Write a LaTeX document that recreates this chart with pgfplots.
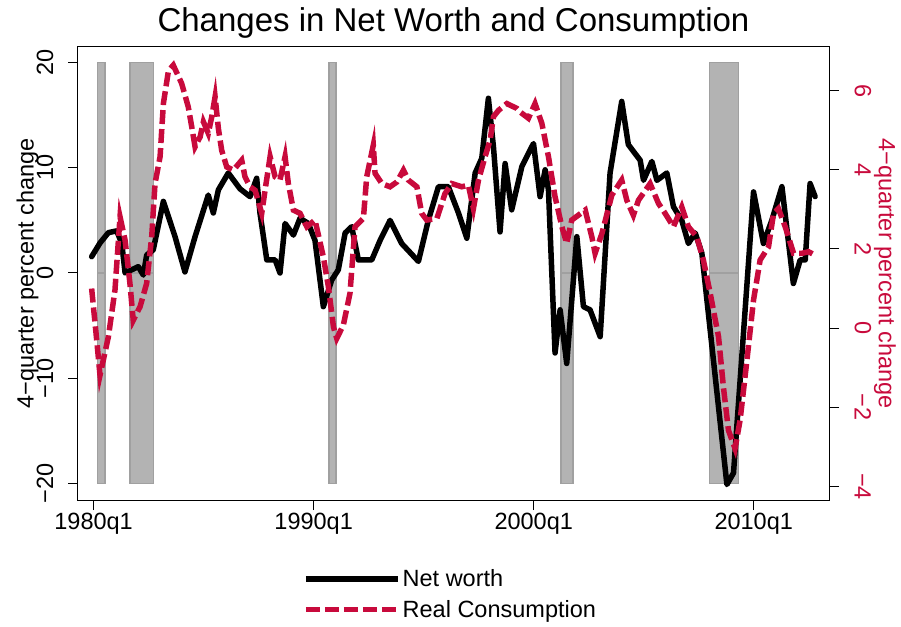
\documentclass[border=0pt]{standalone}
\usepackage{pgfplots}
\pgfplotsset{compat=1.18}
\usepackage{fontspec}
\setmainfont{Liberation Sans}
\definecolor{cran}{RGB}{200,10,60}
\definecolor{barfill}{RGB}{179,179,179}
\definecolor{bardraw}{RGB}{160,160,160}
\begin{document}
\begin{tikzpicture}
\useasboundingbox (0pt,0pt) rectangle (901pt,626pt);
\pgfplotsset{
 base/.style={
  scale only axis, width=751pt, height=453pt,
  at={(78pt,126pt)}, anchor=south west,
  xmin=1979.29, xmax=2013.42,
  tick align=outside, major tick length=10pt,
  tick style={line width=1pt, black},
  ticklabel style={font=\fontsize{23.5}{28}\selectfont},
  label style={font=\fontsize{23.5}{28}\selectfont},
  axis line style={line width=1pt, black},
 },
 rec/.style={fill=barfill, draw=bardraw, line width=1.5pt, forget plot},
}
\begin{axis}[base,
  ymin=-21.57, ymax=21.47,
  xtick={1980,1990,2000,2010}, xticklabels={1980q1,1990q1,2000q1,2010q1},
  ytick={-20,-10,0,10,20}, yticklabels={−20,−10,0,10,20},
  xtick pos=bottom, ytick pos=left,
  yticklabel style={rotate=90, anchor=south},
  yticklabel shift=11pt,
  every axis y label/.style={at={(axis description cs:-0.0673,0.5)}, rotate=90, anchor=center, font=\fontsize{23.5}{28}\selectfont},
  ylabel={4−quarter percent change},
  title={Changes in Net Worth and Consumption},
  title style={font=\fontsize{33}{38}\selectfont, at={(axis description cs:0.5,1.022)}, anchor=base},
]
\addplot[rec] coordinates {(1980.17,20) (1980.52,20)} \closedcycle;
\addplot[rec] coordinates {(1980.17,-20) (1980.52,-20)} \closedcycle;
\addplot[rec] coordinates {(1981.65,20) (1982.71,20)} \closedcycle;
\addplot[rec] coordinates {(1981.65,-20) (1982.71,-20)} \closedcycle;
\addplot[rec] coordinates {(1990.70,20) (1991.02,20)} \closedcycle;
\addplot[rec] coordinates {(1990.70,-20) (1991.02,-20)} \closedcycle;
\addplot[rec] coordinates {(2001.25,20) (2001.78,20)} \closedcycle;
\addplot[rec] coordinates {(2001.25,-20) (2001.78,-20)} \closedcycle;
\addplot[rec] coordinates {(2007.98,20) (2009.30,20)} \closedcycle;
\addplot[rec] coordinates {(2007.98,-20) (2009.30,-20)} \closedcycle;
\addplot[black, line width=5.5pt, line join=round, line cap=round] coordinates {
(1979.91,1.55) (1980.29,2.85) (1980.67,3.83) (1981.05,4.0) (1981.28,2.8) (1981.43,0.0) (1981.73,0.3) (1982.03,0.6) (1982.26,-0.2) (1982.41,1.7) (1982.71,2.2) (1983.17,6.8) (1983.70,3.45) (1984.15,0.1) (1984.61,3.45) (1985.21,7.4) (1985.44,5.7) (1985.67,7.9) (1986.12,9.5) (1986.65,8.0) (1987.11,7.25) (1987.41,9.0) (1987.56,5.7) (1987.87,1.24) (1988.25,1.24) (1988.47,0.0) (1988.70,4.7) (1989.08,3.6) (1989.38,5.2) (1989.76,4.7) (1990.06,3.1) (1990.44,-3.2) (1990.82,-0.67) (1991.12,0.3) (1991.43,3.8) (1991.73,4.4) (1992.03,1.24) (1992.64,1.24) (1993.02,3.1) (1993.47,5.0) (1994.00,2.8) (1994.76,1.1) (1995.21,5.0) (1995.67,8.2) (1996.12,8.2) (1996.58,5.7) (1996.96,3.3) (1997.34,9.5) (1997.64,10.9) (1997.94,16.6) (1998.17,12.0) (1998.47,3.9) (1998.70,10.4) (1999.00,6.0) (1999.46,10.1) (1999.84,11.7) (1999.99,12.3) (2000.29,7.25) (2000.52,9.8) (2000.67,7.9) (2000.97,-7.6) (2001.20,-3.5) (2001.50,-8.6) (2001.96,3.45) (2002.26,-3.2) (2002.56,-3.5) (2003.02,-6.05) (2003.47,9.5) (2004.00,16.3) (2004.30,12.2) (2004.84,10.7) (2004.99,8.8) (2005.37,10.6) (2005.60,8.8) (2006.05,9.5) (2006.35,6.3) (2006.73,5.0) (2007.03,2.8) (2007.34,3.8) (2007.64,1.9) (2008.78,-20.1) (2009.08,-19.0) (2009.99,7.7) (2010.44,2.8) (2010.82,5.0) (2011.28,8.2) (2011.80,-1.0) (2012.11,1.24) (2012.34,1.24) (2012.56,8.5) (2012.79,7.25)
};
\end{axis}
\begin{axis}[base,
  ymin=-4.34, ymax=7.10,
  axis x line=none, axis y line*=right,
  ytick={-4,-2,0,2,4,6}, yticklabels={−4,−2,0,2,4,6},
  yticklabel style={rotate=-90, anchor=south, text=cran},
  yticklabel shift=12pt,
  every axis y label/.style={at={(axis description cs:1.0746,0.5)}, rotate=-90, anchor=center, text=cran, font=\fontsize{23.5}{28}\selectfont},
  ylabel={4−quarter percent change},
  legend style={draw=none, fill=none, at={(axis description cs:0.2956,-0.145)}, anchor=north west, font=\fontsize{23.5}{28}\selectfont, row sep=8pt},
  legend cell align=left,
  legend image code/.code={\draw[#1] (0pt,0pt) -- (92pt,0pt);},
]
\addlegendimage{black, line width=5.5pt}
\addlegendentry{Net worth}
\addplot[cran, line width=5.5pt, dash pattern=on 14pt off 5pt] coordinates {
(1979.91,1.0) (1980.14,-0.3) (1980.29,-1.19) (1980.67,-0.22) (1980.97,0.96) (1981.20,2.81) (1981.43,2.22) (1981.65,1.13) (1981.80,0.2) (1982.11,0.54) (1982.41,1.13) (1982.64,2.31) (1982.79,3.65) (1983.02,4.33) (1983.17,5.67) (1983.40,6.5) (1983.62,6.64) (1984.00,6.18) (1984.30,5.59) (1984.46,5.08) (1984.61,4.58) (1984.84,4.83) (1984.99,5.21) (1985.21,4.92) (1985.37,5.34) (1985.52,5.84) (1985.67,5.04) (1985.82,4.49) (1986.05,4.07) (1986.35,3.99) (1986.73,4.24) (1986.88,3.82) (1987.11,3.57) (1987.34,3.48) (1987.64,2.9) (1987.79,3.48) (1988.02,4.33) (1988.25,3.82) (1988.47,3.74) (1988.70,4.33) (1988.85,3.65) (1989.08,2.98) (1989.38,2.9) (1989.69,2.56) (1990.06,2.73) (1990.44,1.8) (1990.67,1.04) (1990.90,0.03) (1991.05,-0.26) (1991.35,0.08) (1991.65,0.88) (1991.88,2.56) (1992.26,2.77) (1992.41,3.82) (1992.71,4.62) (1992.79,3.91) (1993.10,3.65) (1993.47,3.57) (1993.78,3.69) (1994.08,3.99) (1994.30,3.74) (1994.69,3.57) (1994.91,2.9) (1995.14,2.73) (1995.60,2.77) (1995.97,3.4) (1996.28,3.65) (1996.73,3.57) (1997.03,3.61) (1997.26,3.02) (1997.49,3.74) (1997.79,4.33) (1998.02,4.75) (1998.17,5.34) (1998.40,5.5) (1998.78,5.67) (1999.23,5.55) (1999.38,5.46) (1999.76,5.3) (2000.06,5.67) (2000.37,5.17) (2000.67,4.33) (2000.97,3.32) (2001.28,2.56) (2001.50,2.14) (2001.73,2.73) (2002.34,2.98) (2002.64,2.31) (2002.79,1.89) (2003.10,2.39) (2003.55,3.36) (2004.00,3.74) (2004.23,3.23) (2004.53,2.85) (2004.76,3.23) (2005.29,3.65) (2005.67,3.15) (2005.97,2.9) (2006.35,2.56) (2006.73,3.06) (2007.03,2.56) (2007.41,2.31) (2007.71,1.72) (2008.02,0.88) (2008.40,-0.22) (2008.62,-1.48) (2008.85,-2.58) (2009.15,-3.04) (2009.38,-2.32) (2009.69,-0.81) (2009.99,0.71) (2010.29,1.72) (2010.67,2.05) (2010.90,2.9) (2011.12,3.02) (2011.43,2.56) (2011.81,1.89) (2012.19,1.89) (2012.49,1.93) (2012.79,1.84)
};
\addlegendentry{Real Consumption}
\end{axis}
\end{tikzpicture}
\end{document}
